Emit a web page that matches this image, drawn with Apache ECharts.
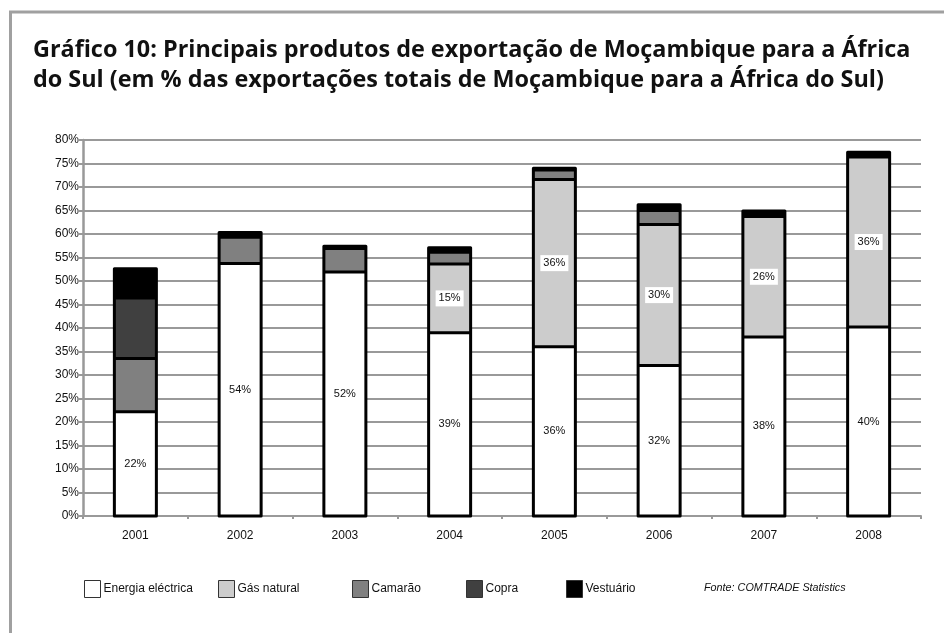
<!DOCTYPE html>
<html>
<head>
<meta charset="utf-8">
<script src="https://cdn.jsdelivr.net/npm/echarts@6/dist/echarts.min.js"></script>
<style>
html,body{margin:0;padding:0;background:#fff;}
#c{width:944px;height:633px;}
</style>
</head>
<body>
<div id="c"></div>
<script>
const years = ['2001','2002','2003','2004','2005','2006','2007','2008'];
const energia = [22.2, 53.7, 51.9, 39.0, 36.0, 32.0, 38.1, 40.2];
const gas = [0, 0, 0, 14.6, 35.6, 30.0, 25.6, 36.2];
const camarao = [11.3, 5.6, 5.0, 2.5, 2.0, 3.0, 0, 0];
const copra = [12.9, 0, 0, 0, 0, 0, 0, 0];
const vestuario = [6.2, 1.0, 0.5, 1.0, 0.4, 1.2, 1.2, 1.0];
const seriesNames = ['Energia eléctrica','Gás natural','Camarão','Copra','Vestuário'];
const colors = ['#ffffff','#cccccc','#808080','#404040','#000000'];
const titleText = 'Gráfico 10: Principais produtos de exportação de Moçambique para a África\ndo Sul (em % das exportações totais de Moçambique para a África do Sul)';
const sourceText = 'Fonte: COMTRADE Statistics';

const BAR_W = 42;
const chart = echarts.init(document.getElementById('c'), null, {renderer:'canvas'});
const allData = [energia, gas, camarao, copra, vestuario];

function mkData(arr, withLabel){
  return arr.map(v => (v > 0 ? {value: v, label: {show: withLabel}} : '-'));
}

const labelStyle = {
  show: false,
  position: 'inside',
  formatter: p => Math.round(p.value) + '%',
  color: '#111',
  fontFamily: 'Liberation Sans, Arial, sans-serif',
  fontSize: 11,
  backgroundColor: '#ffffff',
  padding: [3, 3, 2, 3]
};

const series = seriesNames.map((name, i) => ({
  name: name,
  type: 'bar',
  stack: 'total',
  barWidth: BAR_W,
  data: mkData(allData[i], i < 2),
  itemStyle: {color: colors[i], borderWidth: 0},
  label: Object.assign({}, labelStyle),
  emphasis: {disabled: true},
  z: 2
}));

// outlines of the stacked segments, positioned through the axes
series.push({
  type: 'custom',
  name: 'outline',
  silent: true,
  z: 3,
  encode: {x: 0, y: 1},
  data: years.map((y, i) => [i, allData.reduce((s, a) => s + a[i], 0)]),
  renderItem: function (params, api) {
    const i = api.value(0);
    const base = api.coord([i, 0]);
    const x0 = base[0] - BAR_W / 2;
    const total = allData.reduce((s, a) => s + a[i], 0);
    const yTop = api.coord([i, total])[1];
    const children = [];
    let cum = 0;
    for (let k = 0; k < allData.length; k++) {
      const v = allData[k][i];
      if (v <= 0) continue;
      cum += v;
      if (cum < total - 1e-9) {
        const y = api.coord([i, cum])[1];
        children.push({type: 'line', shape: {x1: x0, y1: y, x2: x0 + BAR_W, y2: y}, style: {stroke: '#000', lineWidth: 3}});
      }
    }
    children.push({type: 'rect', shape: {x: x0, y: yTop, width: BAR_W, height: base[1] - yTop}, style: {fill: 'none', stroke: '#000', lineWidth: 3, lineJoin: 'round'}});
    return {type: 'group', children: children};
  }
});

const legendLefts = [84, 218, 352, 466, 566];
const legends = seriesNames.map((name, i) => ({
  data: [name],
  left: legendLefts[i],
  top: 580,
  padding: 0,
  itemWidth: 16,
  itemHeight: 17,
  itemGap: 4,
  icon: 'rect',
  selectedMode: false,
  textStyle: {fontFamily: 'Liberation Sans, Arial, sans-serif', fontSize: 12, color: '#111', padding: [0,0,0,-2]},
  itemStyle: {borderColor: '#333', borderWidth: 1}
}));

chart.setOption({
  animation: false,
  backgroundColor: '#fff',
  title: {
    text: titleText,
    left: 33,
    top: 35,
    padding: 0,
    textStyle: {fontFamily: 'Open Sans, sans-serif', fontWeight: 'bold', fontSize: 23.4, color: '#111', lineHeight: 30}
  },
  legend: legends,
  grid: {left: 83, right: 23, top: 140, bottom: 117, containLabel: false},
  xAxis: {
    type: 'category',
    data: years,
    axisLine: {lineStyle: {color: '#999', width: 2}},
    axisTick: {show: true, length: 3, lineStyle: {color: '#999', width: 2}},
    axisLabel: {color: '#111', fontFamily: 'Liberation Sans, Arial, sans-serif', fontSize: 12, margin: 14}
  },
  yAxis: {
    type: 'value',
    min: 0, max: 80, interval: 5,
    axisLine: {show: true, lineStyle: {color: '#999', width: 2.5}},
    axisTick: {show: true, length: 4, lineStyle: {color: '#999', width: 2}},
    splitLine: {lineStyle: {color: '#999', width: 2}},
    axisLabel: {formatter: '{value}%', color: '#111', fontFamily: 'Liberation Sans, Arial, sans-serif', fontSize: 12, margin: 4}
  },
  graphic: [
    {type: 'line', shape: {x1: 9, y1: 12, x2: 944, y2: 12}, style: {stroke: '#a0a0a0', lineWidth: 3}, silent: true},
    {type: 'line', shape: {x1: 10.5, y1: 11, x2: 10.5, y2: 633}, style: {stroke: '#a0a0a0', lineWidth: 3}, silent: true},
    {type: 'text', left: 704, top: 582, style: {text: sourceText, font: 'italic 10.8px "Liberation Sans", Arial, sans-serif', fill: '#111'}, silent: true}
  ],
  series: series
});
</script>
</body>
</html>
